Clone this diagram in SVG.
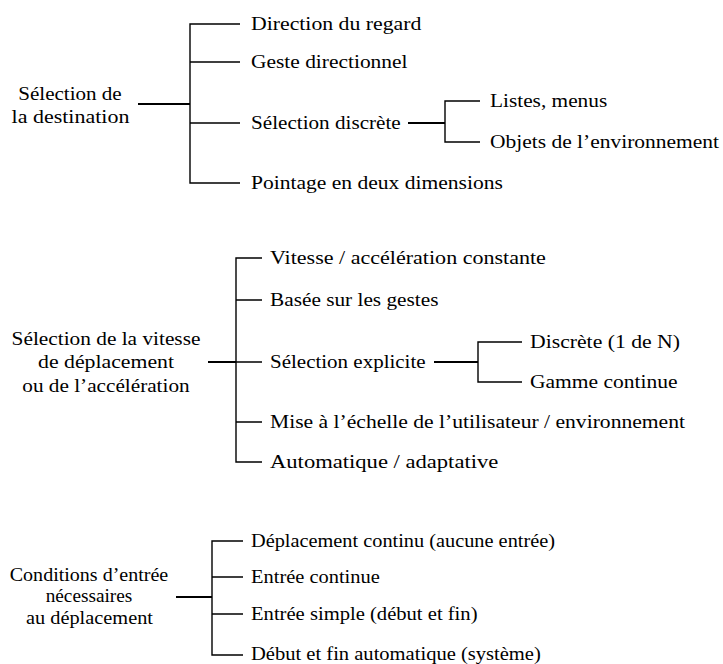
<svg xmlns="http://www.w3.org/2000/svg" width="723" height="664" viewBox="0 0 723 664">
<style>
text{font-family:"Liberation Serif","Times New Roman","DejaVu Serif","Noto Serif",serif;font-size:19px;fill:#000}
.s3{font-size:18px}
.r{text-anchor:middle}
.b{stroke:#000;stroke-width:1.4;fill:none}
.m{stroke:#000;stroke-width:2;fill:none}
</style>
<rect width="723" height="664" fill="#fff"/>
<g id="connectors">
<path class="m" d="M138 104H190"/>
<path class="b" d="M240 24H190V183H240M190 62H240M190 123H240"/>
<path class="m" d="M408 123H445"/>
<path class="b" d="M480 101H445V142H480"/>
<path class="m" d="M208 362H236"/>
<path class="b" d="M262 258H236V462H262M236 300H262M236 362H262M236 422H262"/>
<path class="m" d="M434 362H478"/>
<path class="b" d="M522 342H478V382H522"/>
<path class="m" d="M176 597H212"/>
<path class="b" d="M243 541H212V655H243M212 577H243M212 614H243"/>
</g>
<g id="n1"><text class="r" x="70" y="99.5" textLength="103.4" lengthAdjust="spacingAndGlyphs">Sélection de</text><text class="r" x="70.5" y="122.5" textLength="117.8" lengthAdjust="spacingAndGlyphs">la destination</text></g>
<g id="n1a"><text x="251" y="29.5" textLength="170.4" lengthAdjust="spacingAndGlyphs">Direction du regard</text></g>
<g id="n1b"><text x="251" y="67.5" textLength="156.5" lengthAdjust="spacingAndGlyphs">Geste directionnel</text></g>
<g id="n1c"><text x="251" y="128.5" textLength="149.7" lengthAdjust="spacingAndGlyphs">Sélection discrète</text></g>
<g id="n1c1"><text x="490" y="106.5" textLength="117.2" lengthAdjust="spacingAndGlyphs">Listes, menus</text></g>
<g id="n1c2"><text x="490" y="147.5" textLength="229" lengthAdjust="spacingAndGlyphs">Objets de l’environnement</text></g>
<g id="n1d"><text x="251" y="188.5" textLength="251.9" lengthAdjust="spacingAndGlyphs">Pointage en deux dimensions</text></g>
<g id="n2"><text class="r" x="106" y="345" textLength="188.8" lengthAdjust="spacingAndGlyphs">Sélection de la vitesse</text><text class="r" x="106" y="368.3" textLength="136" lengthAdjust="spacingAndGlyphs">de déplacement</text><text class="r" x="106" y="391.6" textLength="167.3" lengthAdjust="spacingAndGlyphs">ou de l’accélération</text></g>
<g id="n2a"><text x="270" y="263.5" textLength="275.9" lengthAdjust="spacingAndGlyphs">Vitesse / accélération constante</text></g>
<g id="n2b"><text x="270" y="305.5" textLength="168.5" lengthAdjust="spacingAndGlyphs">Basée sur les gestes</text></g>
<g id="n2c"><text x="270" y="367.5" textLength="155.6" lengthAdjust="spacingAndGlyphs">Sélection explicite</text></g>
<g id="n2c1"><text x="530" y="347.5" textLength="150" lengthAdjust="spacingAndGlyphs">Discrète (1 de N)</text></g>
<g id="n2c2"><text x="530" y="387.5" textLength="147.5" lengthAdjust="spacingAndGlyphs">Gamme continue</text></g>
<g id="n2d"><text x="270" y="427.5" textLength="415" lengthAdjust="spacingAndGlyphs">Mise à l’échelle de l’utilisateur / environnement</text></g>
<g id="n2e"><text x="270" y="467.5" textLength="228.3" lengthAdjust="spacingAndGlyphs">Automatique / adaptative</text></g>
<g id="n3"><text class="r s3" x="89" y="580.5" textLength="158.5" lengthAdjust="spacingAndGlyphs">Conditions d’entrée</text><text class="r s3" x="89" y="602" textLength="86.7" lengthAdjust="spacingAndGlyphs">nécessaires</text><text class="r s3" x="89.5" y="623.5" textLength="127" lengthAdjust="spacingAndGlyphs">au déplacement</text></g>
<g id="n3a"><text class="s3" x="251" y="546.5" textLength="304" lengthAdjust="spacingAndGlyphs">Déplacement continu (aucune entrée)</text></g>
<g id="n3b"><text class="s3" x="251" y="582.5" textLength="128.8" lengthAdjust="spacingAndGlyphs">Entrée continue</text></g>
<g id="n3c"><text class="s3" x="251" y="619.5" textLength="226.5" lengthAdjust="spacingAndGlyphs">Entrée simple (début et fin)</text></g>
<g id="n3d"><text class="s3" x="251" y="660" textLength="289.8" lengthAdjust="spacingAndGlyphs">Début et fin automatique (système)</text></g>
</svg>
